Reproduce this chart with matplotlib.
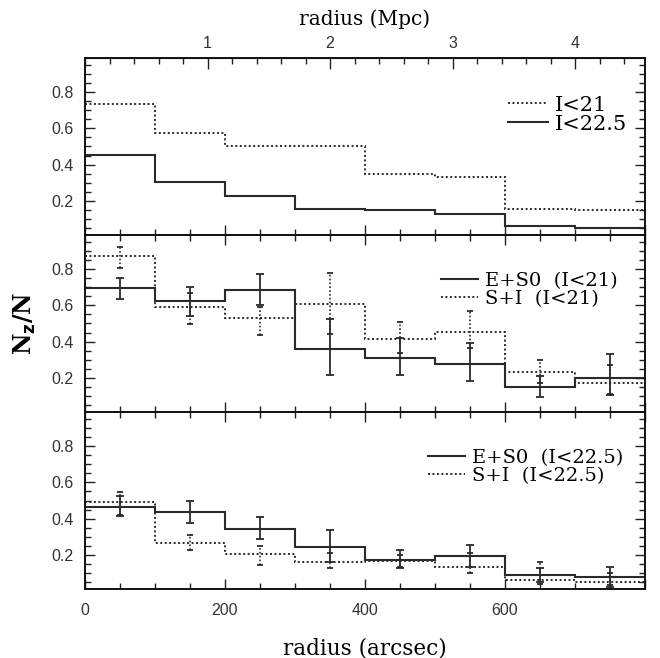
import matplotlib
matplotlib.use("Agg")
import matplotlib.pyplot as plt
import numpy as np
from matplotlib.ticker import MultipleLocator, FixedLocator
from matplotlib.lines import Line2D

# radial bins in arcsec
edges = [0, 100, 200, 300, 400, 500, 600, 700, 800]
centers = [50, 150, 250, 350, 450, 550, 650, 750]

# top panel: all galaxies
top_i21 = [0.735, 0.576, 0.505, 0.500, 0.346, 0.329, 0.155, 0.148]
top_i225 = [0.454, 0.305, 0.224, 0.155, 0.148, 0.127, 0.059, 0.050]

# middle panel: I<21
mid_es0 = [0.698, 0.625, 0.686, 0.357, 0.309, 0.276, 0.150, 0.200]
mid_es0_lo = [0.636, 0.543, 0.600, 0.215, 0.215, 0.183, 0.094, 0.104]
mid_es0_hi = [0.750, 0.700, 0.776, 0.523, 0.418, 0.390, 0.210, 0.330]
mid_si = [0.876, 0.590, 0.530, 0.608, 0.412, 0.451, 0.229, 0.172]
mid_si_lo = [0.810, 0.495, 0.436, 0.440, 0.335, 0.363, 0.170, 0.110]
mid_si_hi = [0.925, 0.667, 0.594, 0.782, 0.507, 0.569, 0.297, 0.270]

# bottom panel: I<22.5
bot_es0 = [0.465, 0.436, 0.343, 0.242, 0.172, 0.190, 0.087, 0.074]
bot_es0_lo = [0.415, 0.375, 0.286, 0.160, 0.126, 0.130, 0.050, 0.020]
bot_es0_hi = [0.523, 0.495, 0.407, 0.338, 0.227, 0.255, 0.124, 0.133]
bot_si = [0.493, 0.263, 0.202, 0.157, 0.163, 0.131, 0.059, 0.050]
bot_si_lo = [0.420, 0.227, 0.144, 0.126, 0.130, 0.100, 0.040, 0.030]
bot_si_hi = [0.547, 0.310, 0.246, 0.209, 0.200, 0.210, 0.160, 0.100]

ARCSEC_PER_MPC = 175.0

SOLID = dict(color="#2a2a2a", linewidth=1.5, linestyle="-")
DOTTED = dict(color="#2a2a2a", linewidth=1.4, linestyle=(0, (1, 1.3)))
SERIF = "DejaVu Serif"
SANS = "Liberation Sans"

fig = plt.figure(figsize=(6.6, 6.58), dpi=100)
left, width, height = 85 / 660, 560 / 660, 177 / 658
ax_top = fig.add_axes([left, (658 - 235) / 658, width, height])
ax_mid = fig.add_axes([left, (658 - 412) / 658, width, height], sharex=ax_top)
ax_bot = fig.add_axes([left, (658 - 589) / 658, width, height], sharex=ax_top)


def style_axis(ax, top_ticks=True):
    ax.set_xlim(0, 800)
    ax.set_ylim(0.01, 0.99)
    ax.yaxis.set_major_locator(FixedLocator([0.2, 0.4, 0.6, 0.8]))
    ax.yaxis.set_minor_locator(MultipleLocator(0.05))
    ax.xaxis.set_major_locator(FixedLocator([0, 200, 400, 600, 800]))
    ax.xaxis.set_minor_locator(MultipleLocator(50))
    ax.tick_params(which="both", direction="in", right=True, top=top_ticks,
                   width=1.0, color="#222")
    ax.tick_params(which="major", length=7)
    ax.tick_params(which="minor", length=4)
    ax.tick_params(axis="y", labelsize=11.5, labelcolor="#333", pad=8)
    for lab in ax.get_yticklabels():
        lab.set_fontfamily(SANS)
    for sp in ax.spines.values():
        sp.set_linewidth(1.4)
        sp.set_color("#111")


def errbars(ax, vals, lo, hi, dotted=False):
    vals = np.asarray(vals)
    yerr = [vals - np.asarray(lo), np.asarray(hi) - vals]
    eb = ax.errorbar(centers, vals, yerr=yerr, fmt="none", ecolor="#2a2a2a",
                     elinewidth=1.3 if not dotted else 1.2,
                     capsize=3 if not dotted else 2, capthick=1.3)
    if dotted:
        for coll in eb[2]:
            coll.set_linestyle((0, (1, 1.3)))


def legend(ax, handles, labels, anchor, size):
    ax.legend(handles, labels, loc="upper right", bbox_to_anchor=anchor,
              frameon=False, handlelength=1.9, handletextpad=0.35,
              labelspacing=0.0, borderpad=0.2,
              prop={"family": SERIF, "size": size})


# top panel
ax_top.stairs(top_i21, edges, baseline=None, **DOTTED)
ax_top.stairs(top_i225, edges, baseline=None, **SOLID)
style_axis(ax_top, top_ticks=False)
ax_top.tick_params(labelbottom=False)
sec = ax_top.secondary_xaxis("top", functions=(lambda x: x / ARCSEC_PER_MPC,
                                               lambda m: m * ARCSEC_PER_MPC))
sec.xaxis.set_major_locator(FixedLocator([1, 2, 3, 4]))
sec.xaxis.set_minor_locator(MultipleLocator(0.2))
sec.tick_params(which="both", direction="in", width=1.0, color="#222",
                labelsize=11.5, labelcolor="#333", pad=5)
sec.tick_params(which="major", length=8)
sec.tick_params(which="minor", length=4)
for lab in sec.get_xticklabels():
    lab.set_fontfamily(SANS)
sec.set_xlabel("radius (Mpc)", fontsize=14.5, family=SERIF, labelpad=8)

legend(ax_top, [Line2D([], [], **DOTTED), Line2D([], [], **SOLID)],
       ["I<21", "I<22.5"], (0.995, 0.87), 15)

# middle panel
ax_mid.stairs(mid_es0, edges, baseline=None, **SOLID)
ax_mid.stairs(mid_si, edges, baseline=None, **DOTTED)
errbars(ax_mid, mid_es0, mid_es0_lo, mid_es0_hi)
errbars(ax_mid, mid_si, mid_si_lo, mid_si_hi, dotted=True)
style_axis(ax_mid)
ax_mid.tick_params(labelbottom=False)
ax_mid.set_ylabel(r"N$_{\mathbf{z}}$/N", fontsize=17, family=SERIF,
                  fontweight="bold", labelpad=10)
legend(ax_mid, [Line2D([], [], **SOLID), Line2D([], [], **DOTTED)],
       ["E+S0  (I<21)", "S+I  (I<21)"], (0.975, 0.87), 14)

# bottom panel
ax_bot.stairs(bot_es0, edges, baseline=None, **SOLID)
ax_bot.stairs(bot_si, edges, baseline=None, **DOTTED)
errbars(ax_bot, bot_es0, bot_es0_lo, bot_es0_hi)
errbars(ax_bot, bot_si, bot_si_lo, bot_si_hi, dotted=True)
style_axis(ax_bot)
ax_bot.set_xticklabels(["0", "200", "400", "600", ""])
ax_bot.tick_params(axis="x", labelsize=11.5, labelcolor="#333", pad=10)
for lab in ax_bot.get_xticklabels():
    lab.set_fontfamily(SANS)
ax_bot.set_xlabel("radius (arcsec)", fontsize=15.5, family=SERIF, labelpad=14)
legend(ax_bot, [Line2D([], [], **SOLID), Line2D([], [], **DOTTED)],
       ["E+S0  (I<22.5)", "S+I  (I<22.5)"], (0.985, 0.87), 14)

fig.savefig("out.png", dpi=100)
